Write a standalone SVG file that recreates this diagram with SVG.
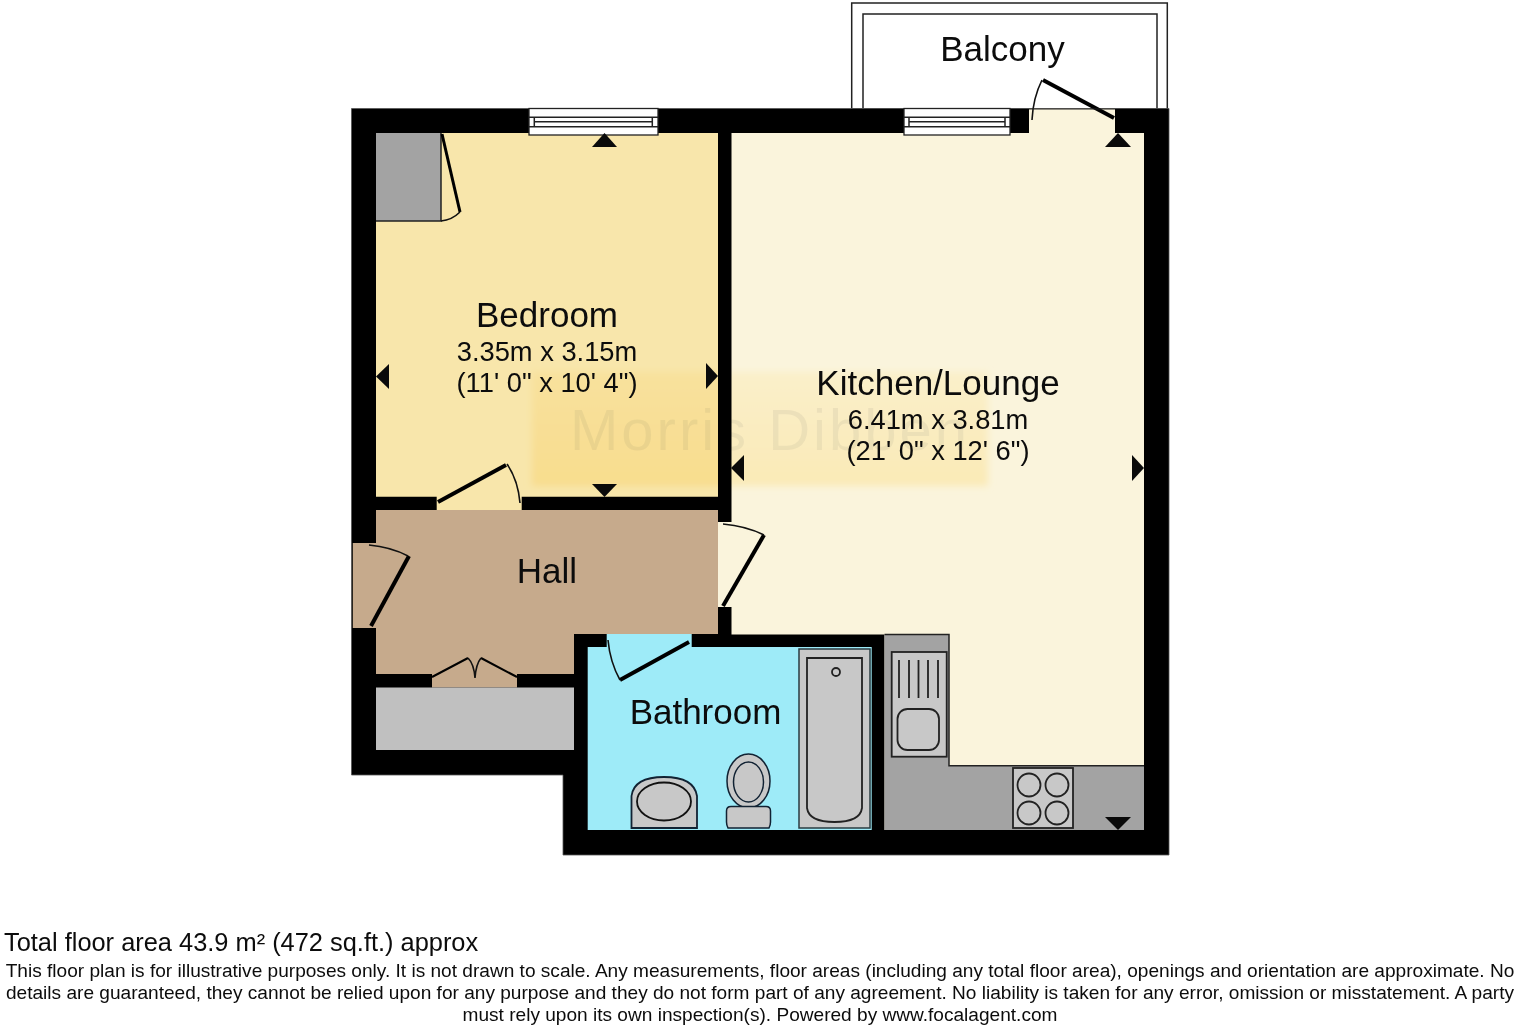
<svg xmlns="http://www.w3.org/2000/svg" width="1520" height="1032" viewBox="0 0 1520 1032">
<defs>
<style>
text{font-family:"Liberation Sans",Arial,sans-serif;fill:#0c0c0c}
.room{font-size:35px;text-anchor:middle}
.dim{font-size:27.3px;text-anchor:middle}
.note{font-size:19.08px;text-anchor:middle}
.leaf{fill:none;stroke:#000;stroke-width:4}
.arc{fill:none;stroke:#111;stroke-width:1.6}
.line{fill:none;stroke:#222;stroke-width:1.5}
.fix{fill:#c8c8c8;stroke:#222;stroke-width:1.8}
.win{fill:#fff;stroke:#222;stroke-width:1.3}
</style>
<filter id="soft" x="-5%" y="-15%" width="110%" height="130%"><feGaussianBlur stdDeviation="3.5"/></filter>
<linearGradient id="tint" x1="0" y1="0" x2="0" y2="1"><stop offset="0" stop-color="#fffaea"/><stop offset="1" stop-color="#fff5d4"/></linearGradient>
</defs>
<rect width="1520" height="1032" fill="#fff"/>
<g id="balcony">
<rect x="851.7" y="3" width="315.6" height="106" fill="#fff" stroke="#222" stroke-width="1.5"/>
<rect x="863" y="14" width="294" height="95" fill="#fff" stroke="#222" stroke-width="1.5"/>
</g>
<g id="walls">
<path d="M351.5 108.5H1169V855H563V775H351.5Z" fill="#000" stroke="#555" stroke-width="0.8" stroke-linejoin="round"/>
</g>
<g id="bedroom">
<path d="M376 133H718V496.7H521.7V510H436.7V496.7H376Z" fill="#f8e6ab"/>
<path d="M376 133H441V221H376Z" fill="#a3a3a3"/>
<path class="line" d="M441 133V221H376"/>
<path class="leaf" style="stroke-width:3" d="M442 134L460 212"/>
<path class="arc" d="M441 221Q452 220 460 212"/>
<path class="leaf" d="M438 502L506 465"/>
<path class="arc" d="M507 464Q518 480 520 503"/>
</g>
<g id="kitchen">
<path d="M731.5 133H1029V108.8H1115V133H1144V830H884.5V634.5H731.5V607H718V522H731.5Z" fill="#faf4dc"/>
<path d="M884.5 634.5H949V765.7H1144V830H884.5Z" fill="#a3a3a3"/>
<path class="line" d="M884.5 634.5H949V765.7H1144"/>
<rect class="fix" x="891.7" y="652" width="55" height="104.7"/>
<path class="line" style="stroke-width:1.8" d="M899 660V698M909 660V698M918.5 660V698M928 660V698M938 660V698"/>
<rect class="fix" x="897.5" y="709" width="41.5" height="41" rx="10"/>
<rect class="fix" x="1013" y="768" width="60" height="60"/>
<circle class="fix" cx="1029" cy="785" r="11.5"/>
<circle class="fix" cx="1057" cy="785" r="11.5"/>
<circle class="fix" cx="1029" cy="813" r="11.5"/>
<circle class="fix" cx="1057" cy="813" r="11.5"/>
<path class="leaf" d="M1114 118L1043 80"/>
<path class="arc" d="M1032 120Q1033 98 1042 80"/>
<path class="line" style="stroke-width:1" d="M1029 109H1115"/>
<path class="leaf" d="M723 606L764 535"/>
<path class="arc" d="M723 524Q746 526 764 535"/>
</g>
<g id="hall">
<path d="M376 510H718V634H574V674H517V687.5H432V674H376V628H352.8V543H376Z" fill="#c6aa8c"/>
<path class="leaf" d="M371 626L409 556"/>
<path class="arc" d="M369 545Q391 547 408 556"/>
<path class="leaf" style="stroke-width:2" d="M432 677L468 658M517 677L481 658"/>
<path class="arc" d="M468 658Q474 664 475 678Q476 664 481 658"/>
</g>
<g id="cupboard">
<rect x="376" y="687.5" width="198" height="62.5" fill="#c0c0c0"/>
</g>
<g id="bathroom">
<path d="M587.7 647H606.7V634H691.7V647H871.7V830H587.7Z" fill="#9eebf8"/>
<path class="leaf" d="M689 642L620 680"/>
<path class="arc" d="M608 640Q610 662 620 680"/>
<rect x="799" y="649" width="71" height="179" fill="#c8c8c8" stroke="#2a3d42" stroke-width="1.5"/>
<path class="fix" d="M807 658H862V808Q860 822 834.500 822Q809 822 807 808Z"/>
<circle class="fix" cx="836" cy="672" r="4"/>
<path class="fix" style="stroke:#123" d="M631.500 828V796Q634 777 664 777Q694 777 697 796V828Z"/>
<ellipse cx="664" cy="801.5" rx="27" ry="19" fill="none" stroke="#111" stroke-width="1.8"/>
<ellipse cx="748.5" cy="781" rx="21.5" ry="27" fill="#c8c8c8" stroke="#123" stroke-width="1.5"/>
<ellipse cx="748.5" cy="782" rx="15" ry="20" fill="none" stroke="#123" stroke-width="1.5"/>
<path d="M731 806.5H766Q770.5 806.5 770.5 811V822Q770.5 825 769 828H728Q726.5 825 726.5 822V811Q726.5 806.5 731 806.5Z" fill="#c8c8c8" stroke="#123" stroke-width="1.5"/>
</g>
<g id="windows">
<g id="window-bedroom">
<rect class="win" x="529" y="108.5" width="129" height="26.5"/>
<path class="line" d="M529 117.3H658M529 126.7H658M534.3 117.3V126.7M652.3 117.3V126.7M534.3 121.7H652.3"/>
</g>
<g id="window-kitchen">
<rect class="win" x="904" y="108.5" width="106" height="26.5"/>
<path class="line" d="M904 117.3H1010M904 126.7H1010M909 117.3V126.7M1005 117.3V126.7M909 121.7H1005"/>
</g>
</g>
<g id="markers" fill="#0a0a0a">
<path d="M604.5 133L617 147H592Z"/>
<path d="M604.5 497L617 484H592Z"/>
<path d="M376 376.5L389 364V389Z"/>
<path d="M718 376L706 363V389Z"/>
<path d="M731 468L744 455V481Z"/>
<path d="M1144 468L1132 455V481Z"/>
<path d="M1118 133L1131 147H1105Z"/>
<path d="M1118 830L1131 817H1105Z"/>
</g>
<g id="watermark" style="mix-blend-mode:multiply">
<rect x="532" y="372" width="456" height="114" fill="url(#tint)" filter="url(#soft)"/>
<text x="570" y="450" font-size="58" letter-spacing="3" style="fill:#8a8a8a" opacity="0.11">Morris Dibben</text>
</g>
<g id="labels">
<text class="room" x="1002.5" y="60.5">Balcony</text>
<text class="room" x="547" y="327">Bedroom</text>
<text class="dim" x="547" y="361">3.35m x 3.15m</text>
<text class="dim" x="547" y="392">(11' 0" x 10' 4")</text>
<text class="room" x="938" y="395">Kitchen/Lounge</text>
<text class="dim" x="938" y="429">6.41m x 3.81m</text>
<text class="dim" x="938" y="460">(21' 0" x 12' 6")</text>
<text class="room" x="547" y="583">Hall</text>
<text class="room" x="705.5" y="724">Bathroom</text>
</g>
<g id="footer">
<text x="4" y="951" font-size="25.4">Total floor area 43.9 m² (472 sq.ft.) approx</text>
<text class="note" x="760" y="977">This floor plan is for illustrative purposes only. It is not drawn to scale. Any measurements, floor areas (including any total floor area), openings and orientation are approximate. No</text>
<text class="note" x="760" y="999">details are guaranteed, they cannot be relied upon for any purpose and they do not form part of any agreement. No liability is taken for any error, omission or misstatement. A party</text>
<text class="note" x="760" y="1021">must rely upon its own inspection(s). Powered by www.focalagent.com</text>
</g>
</svg>
